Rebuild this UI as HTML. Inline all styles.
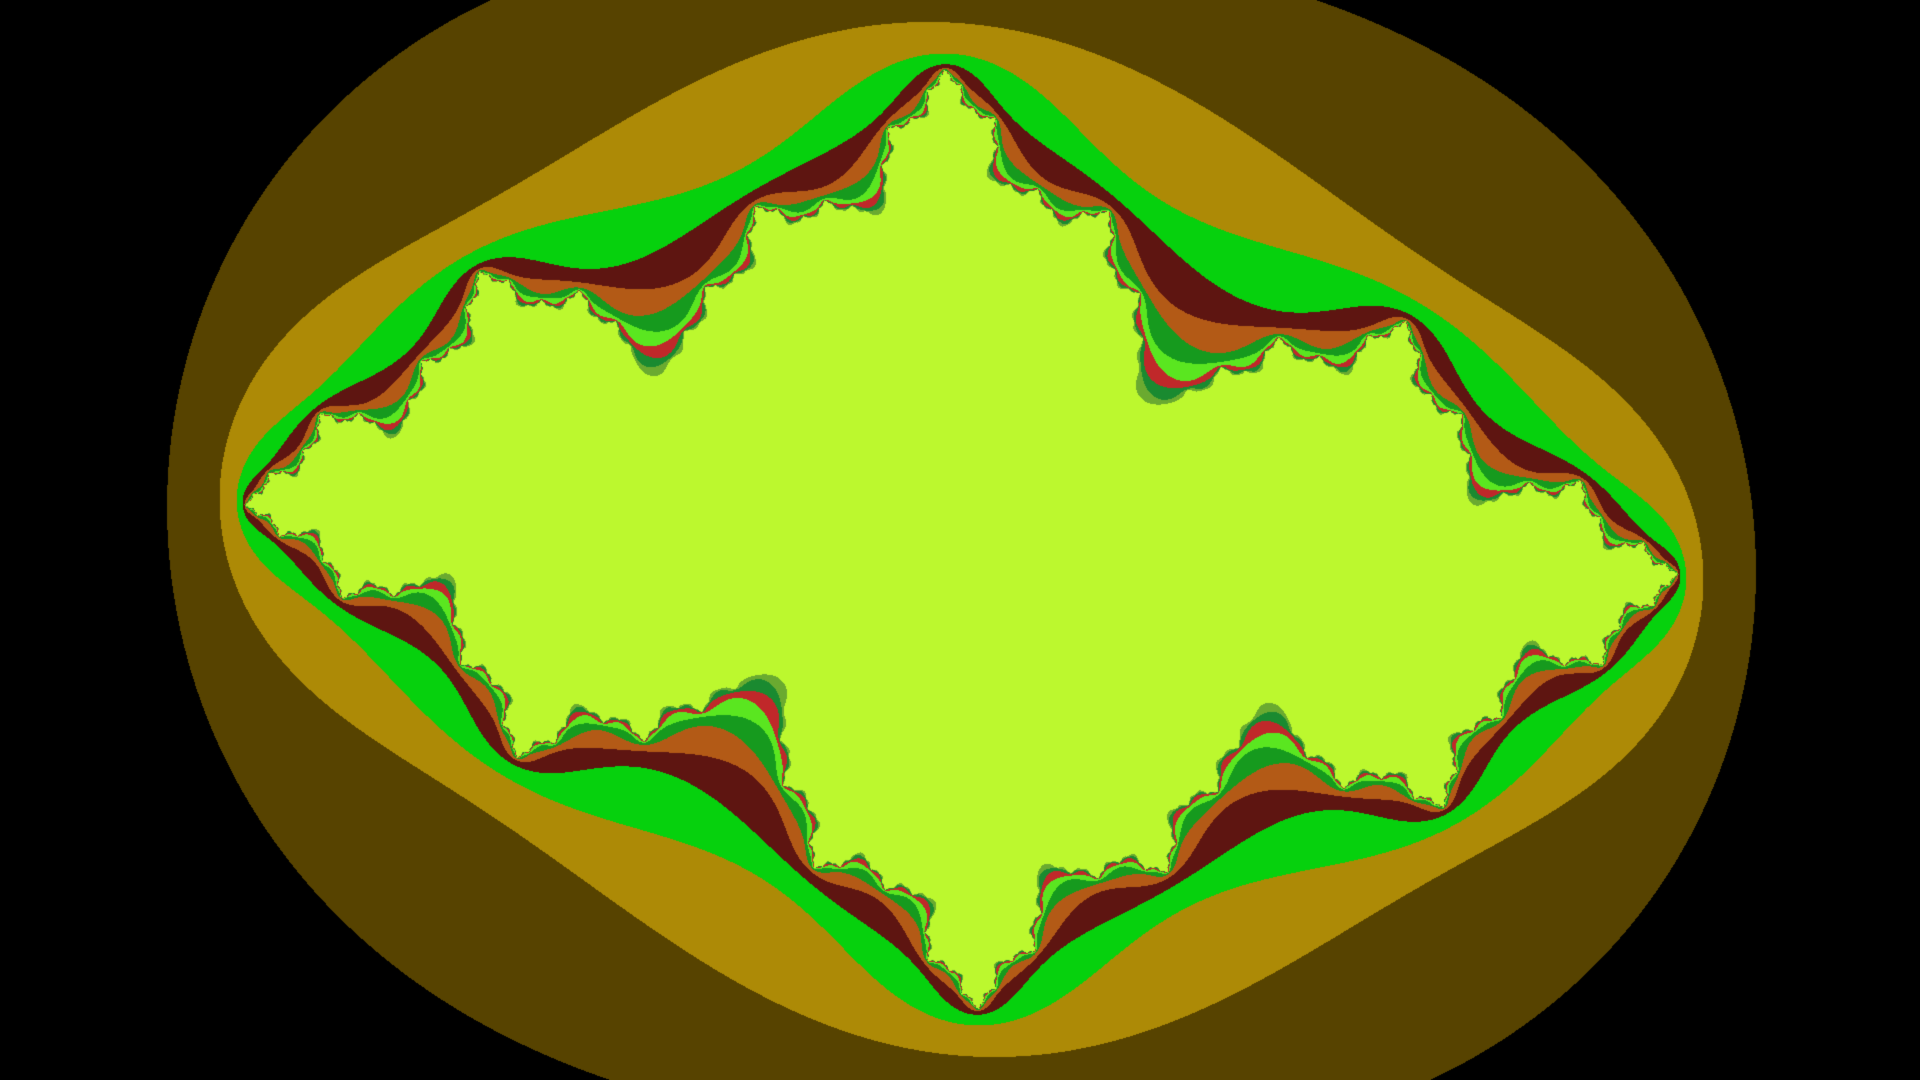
<!DOCTYPE html>
<html>
<head>
<meta charset="utf-8">
<style>
html,body{margin:0;padding:0;background:#000;width:1920px;height:1080px;overflow:hidden;}
canvas{display:block;}
</style>
</head>
<body>
<canvas id="fractal" width="1920" height="1080"></canvas>
<script>
const cParam = [-0.72, 0.125];
const escapeRadius = [2];
const maxIter = [12];
const palette = ["#000000","#000000","#574300","#ad8a06","#06d10d","#5e1511","#b35a16","#169a1e","#5ae620","#c0282a","#1a8a30","#6aaa30","#bcf82e"];

const cv = document.getElementById('fractal');
const ctx = cv.getContext('2d');
const W = 1920, H = 1080;
const R = escapeRadius[0];
const sx = 481.5, sy = 536;
const cx0 = 961, cy0 = 539;
const img = ctx.createImageData(W, H);
const rgb = palette.map(h => [parseInt(h.substr(1,2),16), parseInt(h.substr(3,2),16), parseInt(h.substr(5,2),16)]);
const R2 = R * R;
for (let py = 0; py < H; py++) {
  for (let px = 0; px < W; px++) {
    let x = (px - cx0) / sx, y = -(py - cy0) / sy;
    let n = 0;
    while (n < maxIter[0] && x * x + y * y <= R2) {
      const xt = x * x - y * y + cParam[0];
      y = 2 * x * y + cParam[1];
      x = xt;
      n++;
    }
    const col = (n >= maxIter[0]) ? rgb[rgb.length - 1] : rgb[Math.min(n, rgb.length - 2)];
    const i = (py * W + px) * 4;
    img.data[i] = col[0]; img.data[i+1] = col[1]; img.data[i+2] = col[2]; img.data[i+3] = 255;
  }
}
ctx.putImageData(img, 0, 0);
</script>
</body>
</html>
